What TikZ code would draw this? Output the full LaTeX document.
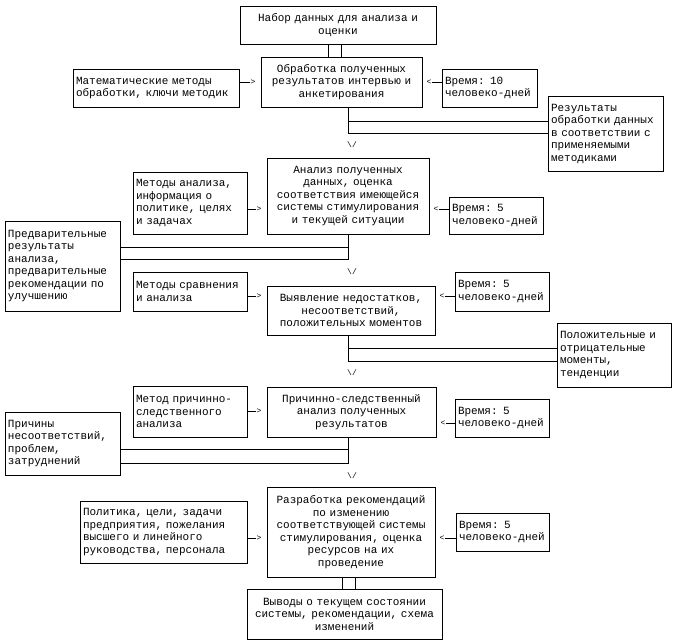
\documentclass[tikz,border=0pt]{standalone}
\usepackage{fontspec}
\setmonofont{Liberation Mono}

\tikzset{
  blk/.style={draw, line width=0.8pt, inner xsep=3pt, inner ysep=0pt, align=center,
    font=\ttfamily\fontsize{11}{12.5}\selectfont},
  note/.style={blk, align=left},
  tip/.style={inner sep=0pt, font=\ttfamily\fontsize{8}{8}\selectfont},
  link/.style={line width=0.8pt},
}

\begin{document}
\begin{tikzpicture}[x=1pt, y=-1pt]
\useasboundingbox (0,0) rectangle (675,643);
\coordinate (sp) at (348,0);

\node[blk, text width=190pt, minimum height=38pt] (nabor) at (338,25) {Набор данных для анализа и\\оценки};
\node[blk, text width=155pt, minimum height=50pt] (obr) at (341.5,82) {Обработка полученных\\результатов интервью и\\анкетирования};
\node[note, text width=160pt, minimum height=38pt] (mat) at (156,88) {Математические методы\\обработки, ключи методик};
\node[note, text width=89pt, minimum height=38pt] (vr1) at (489.5,88) {Время: 10\\человеко-дней};
\node[note, text width=109pt, minimum height=75pt] (res) at (605.5,133.5) {Результаты\\обработки данных\\в соответствии с\\применяемыми\\методиками};

\node[blk, text width=156pt, minimum height=76pt] (an) at (348,196) {Анализ полученных\\данных, оценка\\соответствия имеющейся\\системы стимулирования\\и текущей ситуации};
\node[note, text width=108pt, minimum height=62pt] (metan) at (190,203) {Методы анализа,\\информация о\\политике, целях\\и задачах};
\node[note, text width=88pt, minimum height=37pt] (vr2) at (496,215.5) {Время: 5\\человеко-дней};
\node[note, text width=109pt, minimum height=90pt] (pre) at (62.5,266) {Предварительные\\результаты\\анализа,\\предварительные\\рекомендации по\\улучшению};

\node[blk, text width=162pt, minimum height=49pt] (vyav) at (351,310.5) {Выявление недостатков,\\несоответствий,\\положительных моментов};
\node[note, text width=108pt, minimum height=39pt] (metsr) at (190,291.5) {Методы сравнения\\и анализа};
\node[note, text width=88pt, minimum height=39pt] (vr3) at (502,291.5) {Время: 5\\человеко-дней};
\node[note, text width=108pt, minimum height=64pt] (pol) at (614,355) {Положительные и\\отрицательные\\моменты,\\тенденции};

\node[blk, text width=163pt, minimum height=50pt] (prsl) at (351.5,412) {Причинно-следственный\\анализ полученных\\результатов};
\node[note, text width=108pt, minimum height=51pt] (metpr) at (190,411.5) {Метод причинно-\\следственного\\анализа};
\node[note, text width=88pt, minimum height=38pt] (vr4) at (502,418) {Время: 5\\человеко-дней};
\node[note, text width=109pt, minimum height=63pt] (prich) at (62.5,443.5) {Причины\\несоответствий,\\проблем,\\затруднений};

\node[blk, text width=162pt, minimum height=90pt] (razr) at (351,532) {Разработка рекомендаций\\по изменению\\соответствующей системы\\стимулирования, оценка\\ресурсов на их\\проведение};
\node[note, text width=161pt, minimum height=62pt] (polit) at (163.5,532) {Политика, цели, задачи\\предприятия, пожелания\\высшего и линейного\\руководства, персонала};
\node[note, text width=87pt, minimum height=38pt] (vr5) at (502.5,532) {Время: 5\\человеко-дней};
\node[blk, text width=189pt, minimum height=50pt] (vyv) at (344.5,614) {Выводы о текущем состоянии\\системы, рекомендации, схема\\изменений};

\draw[link] (nabor.south -| 328,0) -- (obr.north -| 328,0);
\draw[link] (nabor.south -| 341,0) -- (obr.north -| 341,0);
\node[tip, anchor=east, xshift=-5pt] (g1) at (obr.west |- 0,82) {>};
\draw[link] (g1) -- (g1 -| mat.east);
\node[tip, anchor=west, xshift=4pt] (h1) at (obr.east |- 0,82) {<};
\draw[link] (h1) -- (h1 -| vr1.west);
\draw[link] (obr.south -| sp) -- (sp |- 0,133) -- (res.west |- 0,133);
\draw[link] (sp |- 0,121) -- (res.west |- 0,121);
\node[tip] (v1) at (352,145) {\textbackslash/};

\node[tip, anchor=east, xshift=-5pt] (g2) at (an.west |- 0,209) {>};
\draw[link] (g2) -- (g2 -| metan.east);
\node[tip, anchor=west, xshift=4pt] (h2) at (an.east |- 0,209) {<};
\draw[link] (h2) -- (h2 -| vr2.west);
\draw[link] (an.south -| sp) -- (sp |- 0,259) -- (pre.east |- 0,259);
\draw[link] (sp |- 0,247) -- (pre.east |- 0,247);
\node[tip] (v2) at (352,271.5) {\textbackslash/};

\node[tip, anchor=east, xshift=-5pt] (g3) at (vyav.west |- 0,296) {>};
\draw[link] (g3) -- (g3 -| metsr.east);
\node[tip, anchor=west, xshift=4pt] (h3) at (vyav.east |- 0,296) {<};
\draw[link] (h3) -- (h3 -| vr3.west);
\draw[link] (vyav.south -| sp) -- (sp |- 0,361) -- (pol.west |- 0,361);
\draw[link] (sp |- 0,348) -- (pol.west |- 0,348);
\node[tip] (v3) at (352,373) {\textbackslash/};

\node[tip, anchor=east, xshift=-5pt] (g4) at (prsl.west |- 0,411) {>};
\draw[link] (g4) -- (g4 -| metpr.east);
\node[tip, anchor=west, xshift=4pt] (h4) at (prsl.east |- 0,423) {<};
\draw[link] (h4) -- (h4 -| vr4.west);
\draw[link] (prsl.south -| sp) -- (sp |- 0,463) -- (prich.east |- 0,463);
\draw[link] (sp |- 0,449) -- (prich.east |- 0,449);
\node[tip] (v4) at (352,476) {\textbackslash/};

\node[tip, anchor=east, xshift=-5pt] (g5) at (razr.west |- 0,538) {>};
\draw[link] (g5) -- (g5 -| polit.east);
\node[tip, anchor=west, xshift=4pt] (h5) at (razr.east |- 0,538) {<};
\draw[link] (h5) -- (h5 -| vr5.west);
\draw[link] (razr.south -| 342,0) -- (vyv.north -| 342,0);
\draw[link] (razr.south -| 355,0) -- (vyv.north -| 355,0);
\end{tikzpicture}
\end{document}
